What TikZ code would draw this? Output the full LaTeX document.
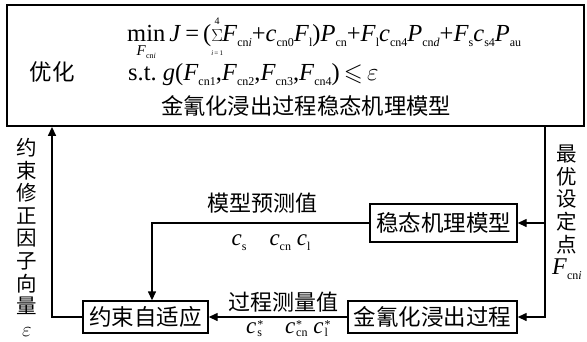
\documentclass[tikz,border=0pt]{standalone}
\usepackage{amssymb}
\usepackage[no-math]{fontspec}
\setmainfont{Liberation Serif}
\newfontfamily\cjk{Noto Sans CJK SC}
\usetikzlibrary{arrows.meta}
\newcommand\mysb[1]{\raisebox{-5pt}{\fontsize{12}{12}\selectfont #1}}
\newcommand\V[2]{{\rmfamily\textit{#1}\mysb{#2}}}
\newcommand\VS[2]{{\rmfamily\textit{#1}\kern1pt\rlap{\raisebox{5pt}{\fontsize{12}{12}\selectfont *}}\raisebox{-3.5pt}{\fontsize{12}{12}\selectfont #2}}}
\begin{document}
\begin{tikzpicture}[x=1pt,y=-1pt,
  blk/.style={draw,line width=1.4pt,inner xsep=5pt,inner ysep=0pt,font=\cjk\fontsize{22.5}{24}\selectfont},
  lnk/.style={line width=1.4pt},
  arr/.style={lnk,-{Triangle[length=9pt,width=8pt]}},
  lab/.style={font=\cjk\fontsize{22}{24}\selectfont},
  vlab/.style={font=\cjk\fontsize{20.5}{22.6}\selectfont,align=center,inner sep=0pt},
  fml/.style={font=\fontsize{24.5}{28}\selectfont,inner sep=0pt},
  sym/.style={font=\fontsize{23}{26}\selectfont,inner sep=0pt}]
\useasboundingbox (0,0) rectangle (587,341);
% top box
\node[draw,line width=1.8pt,minimum width=577pt,minimum height=121pt,inner sep=0pt] (top) at (295.5,65.5) {};
\node[lab,anchor=center,font=\cjk\fontsize{22.5}{24}\selectfont] (opt) at (52.5,72) {优化};
\node[fml,anchor=base west] (obj) at (127,41) {$\mathop{\hbox{min}}\limits_{\hbox{\fontsize{15}{15}\selectfont\textit{F}\raisebox{-3pt}{\fontsize{8}{8}\selectfont cn\textit{i}}}}$\,\textit{J}\,=\,($\mathop{\hbox{\fontsize{18}{18}\selectfont$\Sigma$}}\limits_{\hbox{\fontsize{7}{7}\selectfont\textit{i}\,=\,1}}^{\hbox{\fontsize{10}{10}\selectfont 4}}$\kern-1pt\V{F}{cn\textit{i}}+\V{c}{cn0}\V{F}{l})\V{P}{cn}+\V{F}{l}\V{c}{cn4}\V{P}{cn\textit{d}}+\V{F}{s}\V{c}{s4}\V{P}{au}};
\node[fml,anchor=base west] (st) at (128,80) {s.t.\ \textit{g}(\V{F}{cn1},\V{F}{cn2},\V{F}{cn3},\V{F}{cn4})\,$\leqslant$\,$\varepsilon$};
\node[lab,anchor=center,font=\cjk\fontsize{22.3}{24}\selectfont] (ttl) at (306,106) {金氰化浸出过程稳态机理模型};
% blocks
\node[blk,minimum height=38pt,minimum width=147pt] (model) at (443.5,223) {稳态机理模型};
\node[blk,minimum height=32pt,minimum width=169pt] (proc) at (432.5,317) {金氰化浸出过程};
\node[blk,minimum height=32pt,minimum width=125pt] (ada) at (145.5,317) {约束自适应};
% coordinates
\coordinate (R) at (545,223);
\coordinate (K) at (152,223);
\coordinate (L) at (52,317);
% connectors
\draw[lnk] (top.south -| R) -- (R);
\draw[arr] (R) |- (proc.east);
\draw[arr] (R) -- (model.east);
\draw[arr] (model.west) -- (K) -- (K |- ada.north);
\draw[arr] (proc.west) -- (ada.east);
\draw[arr] (ada.west) -- (L) -- (L |- top.south);
% labels
\node[lab] (mlab) at (262,203) {模型预测值};
\node[sym,anchor=base] (mvals) at (271,245) {\V{c}{s}\quad\V{c}{cn}\ \V{c}{l}};
\node[lab] (plab) at (283,302) {过程测量值};
\node[sym,anchor=base] (pvals) at (287,333) {\VS{c}{s}\quad\VS{c}{cn}\ \VS{c}{l}};
\node[vlab,anchor=north] (llab) at (27,138) {约\\束\\修\\正\\因\\子\\向\\量\\{\fontsize{21}{18}\selectfont$\varepsilon$}};
\node[vlab,anchor=north] (rlab) at (567,145) {最\\优\\设\\定\\点\\{\fontsize{24}{28}\selectfont\V{F}{cn\textit{i}}}};
\end{tikzpicture}
\end{document}
